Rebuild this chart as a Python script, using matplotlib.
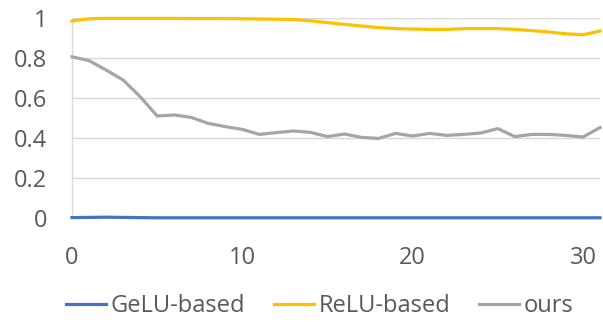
import matplotlib
matplotlib.use("Agg")
import matplotlib.pyplot as plt

plt.rcParams["font.family"] = ["Open Sans", "DejaVu Sans"]

# per-epoch values for each activation variant
steps = list(range(32))
gelu = [0.002, 0.003, 0.004, 0.003, 0.002, 0.001, 0.001, 0.001, 0.001, 0.001,
        0.001, 0.001, 0.001, 0.001, 0.001, 0.001, 0.001, 0.001, 0.001, 0.001,
        0.001, 0.001, 0.001, 0.001, 0.001, 0.001, 0.001, 0.001, 0.001, 0.001,
        0.001, 0.001]
relu = [0.985, 0.996, 0.998, 0.998, 0.998, 0.998, 0.998, 0.997, 0.997, 0.997,
        0.996, 0.995, 0.994, 0.992, 0.986, 0.977, 0.968, 0.960, 0.952, 0.947,
        0.945, 0.943, 0.943, 0.947, 0.947, 0.947, 0.943, 0.937, 0.930, 0.921,
        0.916, 0.935]
ours = [0.806, 0.787, 0.740, 0.690, 0.607, 0.510, 0.515, 0.503, 0.473, 0.457,
        0.443, 0.418, 0.427, 0.435, 0.428, 0.407, 0.420, 0.403, 0.398, 0.423,
        0.410, 0.423, 0.413, 0.418, 0.425, 0.447, 0.407, 0.418, 0.418, 0.413,
        0.405, 0.452]

y_ticks = [0, 0.2, 0.4, 0.6, 0.8, 1]
y_tick_labels = ["0", "0.2", "0.4", "0.6", "0.8", "1"]
x_ticks = [0, 10, 20, 30]

text_color = "#595959"

fig = plt.figure(figsize=(6.03, 3.22), dpi=100)
ax = fig.add_axes([72 / 603, 1 - 218 / 322, 528 / 603, 200 / 322])

lw = 2.3
ax.plot(steps, gelu, color="#4472C4", lw=lw, label="GeLU-based", clip_on=False, zorder=3)
ax.plot(steps, relu, color="#FFC000", lw=lw, label="ReLU-based", clip_on=False, zorder=3)
ax.plot(steps, ours, color="#A5A5A5", lw=lw, label="ours", clip_on=False, zorder=3)

ax.set_xlim(0, 31)
ax.set_ylim(0, 1)
ax.set_yticks(y_ticks)
ax.set_yticklabels(y_tick_labels)
ax.set_xticks(x_ticks)

ax.grid(axis="y", color="#D9D9D9", lw=1)
ax.set_axisbelow(True)
for side in ["top", "right", "bottom"]:
    ax.spines[side].set_visible(False)
ax.spines["left"].set_color("#D9D9D9")
ax.spines["left"].set_linewidth(1)

ax.tick_params(axis="both", length=0, labelsize=17, colors=text_color)
ax.tick_params(axis="y", pad=18)
ax.tick_params(axis="x", pad=20)

leg = fig.legend(loc="center", bbox_to_anchor=(0.53, 1 - 306 / 322), ncol=3,
                 frameon=False, fontsize=17, handlelength=1.7,
                 handletextpad=0.2, columnspacing=1.2, borderpad=0)
for t in leg.get_texts():
    t.set_color(text_color)

fig.savefig("out.png", dpi=100)
